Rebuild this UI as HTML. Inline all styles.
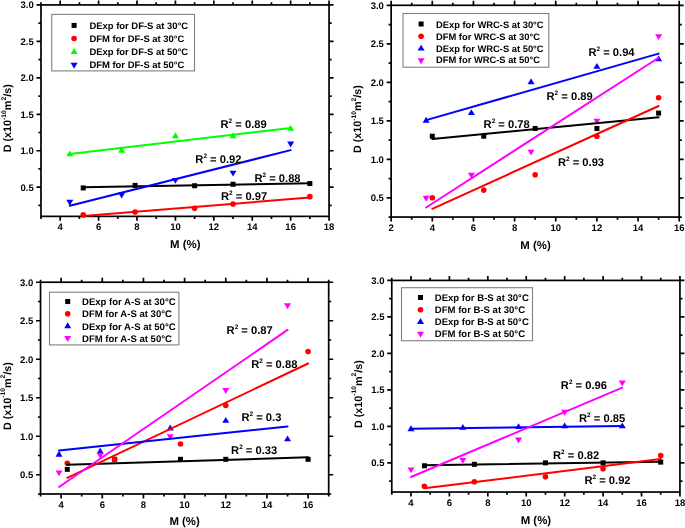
<!DOCTYPE html>
<html><head><meta charset="utf-8"><style>
html,body{margin:0;padding:0;background:#fff;width:685px;height:528px;overflow:hidden}
svg{display:block;will-change:transform}
text{font-family:"Liberation Sans", sans-serif;font-weight:bold;fill:#000;text-rendering:geometricPrecision}
.tk{font-size:9.5px}
.ti{font-size:10.8px}
.xt{font-size:11.4px}
.lg{font-size:9.3px}
.r2{font-size:11.2px}
.sup{font-size:6.7px}
.sup2{font-size:6.4px}
</style></head><body>
<svg width="685" height="528" viewBox="0 0 685 528">
<rect width="685" height="528" fill="#fff"/>
<rect x="40.98" y="4.92" width="288.08" height="211.44" fill="none" stroke="#000" stroke-width="1.7"/>
<path d="M60.19 216.36v4.5M60.19 4.92v-4.5M98.6 216.36v4.5M98.6 4.92v-4.5M137.01 216.36v4.5M137.01 4.92v-4.5M175.42 216.36v4.5M175.42 4.92v-4.5M213.83 216.36v4.5M213.83 4.92v-4.5M252.24 216.36v4.5M252.24 4.92v-4.5M290.65 216.36v4.5M290.65 4.92v-4.5M329.06 216.36v4.5M329.06 4.92v-4.5M40.98 216.36v2.6M40.98 4.92v-2.6M79.39 216.36v2.6M79.39 4.92v-2.6M117.8 216.36v2.6M117.8 4.92v-2.6M156.21 216.36v2.6M156.21 4.92v-2.6M194.62 216.36v2.6M194.62 4.92v-2.6M233.03 216.36v2.6M233.03 4.92v-2.6M271.44 216.36v2.6M271.44 4.92v-2.6M309.85 216.36v2.6M309.85 4.92v-2.6M40.98 205.42h-2.6M329.06 205.42h2.6M40.98 187.2h-4.5M329.06 187.2h4.5M40.98 168.97h-2.6M329.06 168.97h2.6M40.98 150.74h-4.5M329.06 150.74h4.5M40.98 132.51h-2.6M329.06 132.51h2.6M40.98 114.29h-4.5M329.06 114.29h4.5M40.98 96.06h-2.6M329.06 96.06h2.6M40.98 77.83h-4.5M329.06 77.83h4.5M40.98 59.6h-2.6M329.06 59.6h2.6M40.98 41.38h-4.5M329.06 41.38h4.5M40.98 23.15h-2.6M329.06 23.15h2.6M40.98 4.92h-4.5M329.06 4.92h4.5" stroke="#000" stroke-width="1.7" fill="none"/>
<rect x="51.75" y="14.4" width="142.75" height="56.5" fill="none" stroke="#808080" stroke-width="1.1"/>
<rect x="80.73" y="185.42" width="5" height="5" fill="#000000"/>
<rect x="132.59" y="182.87" width="5" height="5" fill="#000000"/>
<rect x="192.12" y="183.24" width="5" height="5" fill="#000000"/>
<rect x="230.53" y="181.78" width="5" height="5" fill="#000000"/>
<rect x="307.35" y="181.05" width="5" height="5" fill="#000000"/>
<circle cx="83.23" cy="214.9" r="2.8" fill="#ff0000"/>
<circle cx="135.09" cy="211.99" r="2.8" fill="#ff0000"/>
<circle cx="194.62" cy="208.34" r="2.8" fill="#ff0000"/>
<circle cx="233.03" cy="203.97" r="2.8" fill="#ff0000"/>
<circle cx="309.85" cy="196.67" r="2.8" fill="#ff0000"/>
<path d="M69.79 150.45L73.29 156.35L66.29 156.35Z" fill="#00ff00"/>
<path d="M121.64 146.81L125.14 152.71L118.14 152.71Z" fill="#00ff00"/>
<path d="M175.42 132.23L178.92 138.13L171.92 138.13Z" fill="#00ff00"/>
<path d="M233.03 132.23L236.53 138.13L229.53 138.13Z" fill="#00ff00"/>
<path d="M290.65 124.93L294.15 130.83L287.15 130.83Z" fill="#00ff00"/>
<path d="M66.29 199.81L73.29 199.81L69.79 205.71Z" fill="#0000ff"/>
<path d="M118.14 192.52L125.14 192.52L121.64 198.42Z" fill="#0000ff"/>
<path d="M171.92 177.94L178.92 177.94L175.42 183.84Z" fill="#0000ff"/>
<path d="M229.53 170.65L236.53 170.65L233.03 176.55Z" fill="#0000ff"/>
<path d="M287.15 141.48L294.15 141.48L290.65 147.38Z" fill="#0000ff"/>
<line x1="83.23" y1="187.26" x2="309.85" y2="183.3" stroke="#000000" stroke-width="2.0" stroke-linecap="round"/>
<line x1="83.23" y1="215.91" x2="309.85" y2="197.57" stroke="#ff0000" stroke-width="2.0" stroke-linecap="round"/>
<line x1="69.79" y1="154.07" x2="290.65" y2="127.96" stroke="#00ff00" stroke-width="2.0" stroke-linecap="round"/>
<line x1="69.79" y1="205.68" x2="290.65" y2="150.15" stroke="#0000ff" stroke-width="2.0" stroke-linecap="round"/>
<text x="60.19" y="230.16" text-anchor="middle" class="tk">4</text>
<text x="98.6" y="230.16" text-anchor="middle" class="tk">6</text>
<text x="137.01" y="230.16" text-anchor="middle" class="tk">8</text>
<text x="175.42" y="230.16" text-anchor="middle" class="tk">10</text>
<text x="213.83" y="230.16" text-anchor="middle" class="tk">12</text>
<text x="252.24" y="230.16" text-anchor="middle" class="tk">14</text>
<text x="290.65" y="230.16" text-anchor="middle" class="tk">16</text>
<text x="329.06" y="230.16" text-anchor="middle" class="tk">18</text>
<text x="33.68" y="190.5" text-anchor="end" class="tk">0.5</text>
<text x="33.68" y="154.04" text-anchor="end" class="tk">1.0</text>
<text x="33.68" y="117.59" text-anchor="end" class="tk">1.5</text>
<text x="33.68" y="81.13" text-anchor="end" class="tk">2.0</text>
<text x="33.68" y="44.68" text-anchor="end" class="tk">2.5</text>
<text x="33.68" y="8.22" text-anchor="end" class="tk">3.0</text>
<text x="185.3" y="248.3" text-anchor="middle" class="xt">M (%)</text>
<text transform="translate(10.9 152.3) rotate(-90)" class="ti">D (x10<tspan class="sup" dy="-5.4">-10</tspan><tspan dy="5.4">m</tspan><tspan class="sup" dy="-5.4">2</tspan><tspan dy="5.4">/s)</tspan></text>
<rect x="71.6" y="22.9" width="5" height="5" fill="#000000"/>
<text x="89.4" y="29.3" class="lg" style="font-size:9.45px">DExp for DF-S at 30°C</text>
<circle cx="74.1" cy="38.5" r="2.8" fill="#ff0000"/>
<text x="89.4" y="42.2" class="lg" style="font-size:9.45px">DFM for DF-S at 30°C</text>
<path d="M74.1 48.05L77.6 53.95L70.6 53.95Z" fill="#00ff00"/>
<text x="89.4" y="54.9" class="lg" style="font-size:9.45px">DExp for DF-S at 50°C</text>
<path d="M70.6 62.75L77.6 62.75L74.1 68.65Z" fill="#0000ff"/>
<text x="89.4" y="68" class="lg" style="font-size:9.45px">DFM for DF-S at 50°C</text>
<text x="220.5" y="127.5" class="r2">R<tspan class="sup2" dy="-5.0">2</tspan><tspan dy="5.0"> = 0.89</tspan></text>
<text x="195.3" y="163" class="r2">R<tspan class="sup2" dy="-5.0">2</tspan><tspan dy="5.0"> = 0.92</tspan></text>
<text x="254.4" y="181.8" class="r2">R<tspan class="sup2" dy="-5.0">2</tspan><tspan dy="5.0"> = 0.88</tspan></text>
<text x="221" y="200.2" class="r2">R<tspan class="sup2" dy="-5.0">2</tspan><tspan dy="5.0"> = 0.97</tspan></text>
<rect x="391.15" y="5.3" width="288.05" height="211.75" fill="none" stroke="#000" stroke-width="1.7"/>
<path d="M391.15 217.05v4.5M391.15 5.3v-4.5M432.3 217.05v4.5M432.3 5.3v-4.5M473.45 217.05v4.5M473.45 5.3v-4.5M514.6 217.05v4.5M514.6 5.3v-4.5M555.75 217.05v4.5M555.75 5.3v-4.5M596.9 217.05v4.5M596.9 5.3v-4.5M638.05 217.05v4.5M638.05 5.3v-4.5M679.2 217.05v4.5M679.2 5.3v-4.5M411.72 217.05v2.6M411.72 5.3v-2.6M452.88 217.05v2.6M452.88 5.3v-2.6M494.02 217.05v2.6M494.02 5.3v-2.6M535.17 217.05v2.6M535.17 5.3v-2.6M576.33 217.05v2.6M576.33 5.3v-2.6M617.48 217.05v2.6M617.48 5.3v-2.6M658.62 217.05v2.6M658.62 5.3v-2.6M391.15 217.05h-2.6M679.2 217.05h2.6M391.15 197.8h-4.5M679.2 197.8h4.5M391.15 178.55h-2.6M679.2 178.55h2.6M391.15 159.3h-4.5M679.2 159.3h4.5M391.15 140.05h-2.6M679.2 140.05h2.6M391.15 120.8h-4.5M679.2 120.8h4.5M391.15 101.55h-2.6M679.2 101.55h2.6M391.15 82.3h-4.5M679.2 82.3h4.5M391.15 63.05h-2.6M679.2 63.05h2.6M391.15 43.8h-4.5M679.2 43.8h4.5M391.15 24.55h-2.6M679.2 24.55h2.6M391.15 5.3h-4.5M679.2 5.3h4.5" stroke="#000" stroke-width="1.7" fill="none"/>
<rect x="403" y="13.5" width="145.8" height="53.7" fill="none" stroke="#808080" stroke-width="1.1"/>
<rect x="429.8" y="133.7" width="5" height="5" fill="#000000"/>
<rect x="481.24" y="133.7" width="5" height="5" fill="#000000"/>
<rect x="532.67" y="126" width="5" height="5" fill="#000000"/>
<rect x="594.4" y="126" width="5" height="5" fill="#000000"/>
<rect x="656.12" y="110.6" width="5" height="5" fill="#000000"/>
<circle cx="432.3" cy="197.8" r="2.8" fill="#ff0000"/>
<circle cx="483.74" cy="190.1" r="2.8" fill="#ff0000"/>
<circle cx="535.17" cy="174.7" r="2.8" fill="#ff0000"/>
<circle cx="596.9" cy="136.2" r="2.8" fill="#ff0000"/>
<circle cx="658.62" cy="97.7" r="2.8" fill="#ff0000"/>
<path d="M426.13 116.87L429.63 122.77L422.63 122.77Z" fill="#0000ff"/>
<path d="M471.39 109.17L474.89 115.07L467.89 115.07Z" fill="#0000ff"/>
<path d="M531.06 78.37L534.56 84.27L527.56 84.27Z" fill="#0000ff"/>
<path d="M596.9 62.97L600.4 68.87L593.4 68.87Z" fill="#0000ff"/>
<path d="M658.62 55.27L662.12 61.17L655.12 61.17Z" fill="#0000ff"/>
<path d="M422.63 195.83L429.63 195.83L426.13 201.73Z" fill="#ff00ff"/>
<path d="M467.89 172.73L474.89 172.73L471.39 178.63Z" fill="#ff00ff"/>
<path d="M527.56 149.63L534.56 149.63L531.06 155.53Z" fill="#ff00ff"/>
<path d="M593.4 118.83L600.4 118.83L596.9 124.73Z" fill="#ff00ff"/>
<path d="M655.12 34.13L662.12 34.13L658.62 40.03Z" fill="#ff00ff"/>
<line x1="432.3" y1="139" x2="658.62" y2="117.21" stroke="#000000" stroke-width="2.0" stroke-linecap="round"/>
<line x1="432.3" y1="208.83" x2="658.62" y2="106.03" stroke="#ff0000" stroke-width="2.0" stroke-linecap="round"/>
<line x1="426.13" y1="120.13" x2="658.62" y2="53.62" stroke="#0000ff" stroke-width="2.0" stroke-linecap="round"/>
<line x1="426.13" y1="207.47" x2="658.62" y2="57.77" stroke="#ff00ff" stroke-width="2.0" stroke-linecap="round"/>
<text x="391.15" y="230.85" text-anchor="middle" class="tk">2</text>
<text x="432.3" y="230.85" text-anchor="middle" class="tk">4</text>
<text x="473.45" y="230.85" text-anchor="middle" class="tk">6</text>
<text x="514.6" y="230.85" text-anchor="middle" class="tk">8</text>
<text x="555.75" y="230.85" text-anchor="middle" class="tk">10</text>
<text x="596.9" y="230.85" text-anchor="middle" class="tk">12</text>
<text x="638.05" y="230.85" text-anchor="middle" class="tk">14</text>
<text x="679.2" y="230.85" text-anchor="middle" class="tk">16</text>
<text x="383.85" y="201.1" text-anchor="end" class="tk">0.5</text>
<text x="383.85" y="162.6" text-anchor="end" class="tk">1.0</text>
<text x="383.85" y="124.1" text-anchor="end" class="tk">1.5</text>
<text x="383.85" y="85.6" text-anchor="end" class="tk">2.0</text>
<text x="383.85" y="47.1" text-anchor="end" class="tk">2.5</text>
<text x="383.85" y="8.6" text-anchor="end" class="tk">3.0</text>
<text x="535.5" y="248.6" text-anchor="middle" class="xt">M (%)</text>
<text transform="translate(361.2 153.1) rotate(-90)" class="ti">D (x10<tspan class="sup" dy="-5.4">-10</tspan><tspan dy="5.4">m</tspan><tspan class="sup" dy="-5.4">2</tspan><tspan dy="5.4">/s)</tspan></text>
<rect x="418.6" y="21.5" width="5" height="5" fill="#000000"/>
<text x="436" y="27.5" class="lg" style="font-size:9.35px">DExp for WRC-S at 30°C</text>
<circle cx="421.1" cy="36.3" r="2.8" fill="#ff0000"/>
<text x="436" y="39.7" class="lg" style="font-size:9.35px">DFM for WRC-S at 30°C</text>
<path d="M421.1 44.65L424.6 50.55L417.6 50.55Z" fill="#0000ff"/>
<text x="436" y="51.6" class="lg" style="font-size:9.35px">DExp for WRC-S at 50°C</text>
<path d="M417.6 58.25L424.6 58.25L421.1 64.15Z" fill="#ff00ff"/>
<text x="436" y="63.3" class="lg" style="font-size:9.35px">DFM for WRC-S at 50°C</text>
<text x="588.4" y="55.7" class="r2">R<tspan class="sup2" dy="-5.0">2</tspan><tspan dy="5.0"> = 0.94</tspan></text>
<text x="546.5" y="99.5" class="r2">R<tspan class="sup2" dy="-5.0">2</tspan><tspan dy="5.0"> = 0.89</tspan></text>
<text x="483.6" y="127.5" class="r2">R<tspan class="sup2" dy="-5.0">2</tspan><tspan dy="5.0"> = 0.78</tspan></text>
<text x="557.9" y="165.7" class="r2">R<tspan class="sup2" dy="-5.0">2</tspan><tspan dy="5.0"> = 0.93</tspan></text>
<rect x="40.53" y="282.23" width="288.15" height="211.75" fill="none" stroke="#000" stroke-width="1.7"/>
<path d="M61.11 493.98v4.5M61.11 282.23v-4.5M102.28 493.98v4.5M102.28 282.23v-4.5M143.44 493.98v4.5M143.44 282.23v-4.5M184.6 493.98v4.5M184.6 282.23v-4.5M225.77 493.98v4.5M225.77 282.23v-4.5M266.93 493.98v4.5M266.93 282.23v-4.5M308.1 493.98v4.5M308.1 282.23v-4.5M40.53 493.98v2.6M40.53 282.23v-2.6M81.69 493.98v2.6M81.69 282.23v-2.6M122.86 493.98v2.6M122.86 282.23v-2.6M164.02 493.98v2.6M164.02 282.23v-2.6M205.19 493.98v2.6M205.19 282.23v-2.6M246.35 493.98v2.6M246.35 282.23v-2.6M287.52 493.98v2.6M287.52 282.23v-2.6M328.68 493.98v2.6M328.68 282.23v-2.6M40.53 493.98h-2.6M328.68 493.98h2.6M40.53 474.73h-4.5M328.68 474.73h4.5M40.53 455.48h-2.6M328.68 455.48h2.6M40.53 436.23h-4.5M328.68 436.23h4.5M40.53 416.98h-2.6M328.68 416.98h2.6M40.53 397.73h-4.5M328.68 397.73h4.5M40.53 378.48h-2.6M328.68 378.48h2.6M40.53 359.23h-4.5M328.68 359.23h4.5M40.53 339.98h-2.6M328.68 339.98h2.6M40.53 320.73h-4.5M328.68 320.73h4.5M40.53 301.48h-2.6M328.68 301.48h2.6M40.53 282.23h-4.5M328.68 282.23h4.5" stroke="#000" stroke-width="1.7" fill="none"/>
<rect x="49.5" y="292.2" width="129.4" height="52.7" fill="none" stroke="#808080" stroke-width="1.1"/>
<rect x="64.79" y="466.84" width="5" height="5" fill="#000000"/>
<rect x="112.13" y="456.83" width="5" height="5" fill="#000000"/>
<rect x="177.99" y="456.83" width="5" height="5" fill="#000000"/>
<rect x="223.27" y="456.83" width="5" height="5" fill="#000000"/>
<rect x="305.6" y="456.83" width="5" height="5" fill="#000000"/>
<circle cx="67.29" cy="463.18" r="2.8" fill="#ff0000"/>
<circle cx="114.63" cy="459.33" r="2.8" fill="#ff0000"/>
<circle cx="180.49" cy="443.93" r="2.8" fill="#ff0000"/>
<circle cx="225.77" cy="405.43" r="2.8" fill="#ff0000"/>
<circle cx="308.1" cy="351.53" r="2.8" fill="#ff0000"/>
<path d="M59.05 450.78L62.55 456.68L55.55 456.68Z" fill="#0000ff"/>
<path d="M100.22 447.7L103.72 453.6L96.72 453.6Z" fill="#0000ff"/>
<path d="M170.2 424.6L173.7 430.5L166.7 430.5Z" fill="#0000ff"/>
<path d="M225.77 416.9L229.27 422.8L222.27 422.8Z" fill="#0000ff"/>
<path d="M287.52 435.38L291.02 441.28L284.02 441.28Z" fill="#0000ff"/>
<path d="M55.55 470.45L62.55 470.45L59.05 476.35Z" fill="#ff00ff"/>
<path d="M96.72 452.74L103.72 452.74L100.22 458.64Z" fill="#ff00ff"/>
<path d="M166.7 434.26L173.7 434.26L170.2 440.16Z" fill="#ff00ff"/>
<path d="M222.27 388.06L229.27 388.06L225.77 393.96Z" fill="#ff00ff"/>
<path d="M284.02 303.36L291.02 303.36L287.52 309.26Z" fill="#ff00ff"/>
<line x1="67.29" y1="464.87" x2="308.1" y2="457.26" stroke="#000000" stroke-width="2.0" stroke-linecap="round"/>
<line x1="67.29" y1="477.85" x2="308.1" y2="363.5" stroke="#ff0000" stroke-width="2.0" stroke-linecap="round"/>
<line x1="59.05" y1="450.58" x2="287.52" y2="426.43" stroke="#0000ff" stroke-width="2.0" stroke-linecap="round"/>
<line x1="59.05" y1="487.04" x2="287.52" y2="329.94" stroke="#ff00ff" stroke-width="2.0" stroke-linecap="round"/>
<text x="61.11" y="507.78" text-anchor="middle" class="tk">4</text>
<text x="102.28" y="507.78" text-anchor="middle" class="tk">6</text>
<text x="143.44" y="507.78" text-anchor="middle" class="tk">8</text>
<text x="184.6" y="507.78" text-anchor="middle" class="tk">10</text>
<text x="225.77" y="507.78" text-anchor="middle" class="tk">12</text>
<text x="266.93" y="507.78" text-anchor="middle" class="tk">14</text>
<text x="308.1" y="507.78" text-anchor="middle" class="tk">16</text>
<text x="33.23" y="478.03" text-anchor="end" class="tk">0.5</text>
<text x="33.23" y="439.53" text-anchor="end" class="tk">1.0</text>
<text x="33.23" y="401.03" text-anchor="end" class="tk">1.5</text>
<text x="33.23" y="362.53" text-anchor="end" class="tk">2.0</text>
<text x="33.23" y="324.03" text-anchor="end" class="tk">2.5</text>
<text x="33.23" y="285.53" text-anchor="end" class="tk">3.0</text>
<text x="184.6" y="525" text-anchor="middle" class="xt">M (%)</text>
<text transform="translate(10.6 430.1) rotate(-90)" class="ti">D (x10<tspan class="sup" dy="-5.4">-10</tspan><tspan dy="5.4">m</tspan><tspan class="sup" dy="-5.4">2</tspan><tspan dy="5.4">/s)</tspan></text>
<rect x="65.2" y="299" width="5" height="5" fill="#000000"/>
<text x="82" y="304.8" class="lg" style="font-size:9.55px">DExp for A-S at 30°C</text>
<circle cx="67.7" cy="313.7" r="2.8" fill="#ff0000"/>
<text x="82" y="317.1" class="lg" style="font-size:9.55px">DFM for A-S at 30°C</text>
<path d="M67.7 322.25L71.2 328.15L64.2 328.15Z" fill="#0000ff"/>
<text x="82" y="329.6" class="lg" style="font-size:9.55px">DExp for A-S at 50°C</text>
<path d="M64.2 336.05L71.2 336.05L67.7 341.95Z" fill="#ff00ff"/>
<text x="82" y="341.6" class="lg" style="font-size:9.55px">DFM for A-S at 50°C</text>
<text x="226.6" y="333.6" class="r2">R<tspan class="sup2" dy="-5.0">2</tspan><tspan dy="5.0"> = 0.87</tspan></text>
<text x="251.2" y="368.3" class="r2">R<tspan class="sup2" dy="-5.0">2</tspan><tspan dy="5.0"> = 0.88</tspan></text>
<text x="241.4" y="420.7" class="r2">R<tspan class="sup2" dy="-5.0">2</tspan><tspan dy="5.0"> = 0.3</tspan></text>
<text x="231.1" y="453.6" class="r2">R<tspan class="sup2" dy="-5.0">2</tspan><tspan dy="5.0"> = 0.33</tspan></text>
<rect x="391.77" y="280.42" width="288.16" height="211.62" fill="none" stroke="#000" stroke-width="1.7"/>
<path d="M410.98 492.04v4.5M410.98 280.42v-4.5M449.4 492.04v4.5M449.4 280.42v-4.5M487.82 492.04v4.5M487.82 280.42v-4.5M526.24 492.04v4.5M526.24 280.42v-4.5M564.67 492.04v4.5M564.67 280.42v-4.5M603.09 492.04v4.5M603.09 280.42v-4.5M641.51 492.04v4.5M641.51 280.42v-4.5M679.93 492.04v4.5M679.93 280.42v-4.5M391.77 492.04v2.6M391.77 280.42v-2.6M430.19 492.04v2.6M430.19 280.42v-2.6M468.61 492.04v2.6M468.61 280.42v-2.6M507.03 492.04v2.6M507.03 280.42v-2.6M545.46 492.04v2.6M545.46 280.42v-2.6M583.88 492.04v2.6M583.88 280.42v-2.6M622.3 492.04v2.6M622.3 280.42v-2.6M660.72 492.04v2.6M660.72 280.42v-2.6M391.77 481.09h-2.6M679.93 481.09h2.6M391.77 462.85h-4.5M679.93 462.85h4.5M391.77 444.61h-2.6M679.93 444.61h2.6M391.77 426.36h-4.5M679.93 426.36h4.5M391.77 408.12h-2.6M679.93 408.12h2.6M391.77 389.88h-4.5M679.93 389.88h4.5M391.77 371.64h-2.6M679.93 371.64h2.6M391.77 353.39h-4.5M679.93 353.39h4.5M391.77 335.15h-2.6M679.93 335.15h2.6M391.77 316.91h-4.5M679.93 316.91h4.5M391.77 298.66h-2.6M679.93 298.66h2.6M391.77 280.42h-4.5M679.93 280.42h4.5" stroke="#000" stroke-width="1.7" fill="none"/>
<rect x="401.5" y="287.7" width="131" height="53" fill="none" stroke="#808080" stroke-width="1.1"/>
<rect x="421.93" y="463.27" width="5" height="5" fill="#000000"/>
<rect x="471.88" y="461.81" width="5" height="5" fill="#000000"/>
<rect x="542.96" y="460.35" width="5" height="5" fill="#000000"/>
<rect x="600.59" y="460.35" width="5" height="5" fill="#000000"/>
<rect x="658.22" y="459.62" width="5" height="5" fill="#000000"/>
<circle cx="424.43" cy="486.2" r="2.8" fill="#ff0000"/>
<circle cx="474.38" cy="481.82" r="2.8" fill="#ff0000"/>
<circle cx="545.46" cy="476.72" r="2.8" fill="#ff0000"/>
<circle cx="603.09" cy="468.69" r="2.8" fill="#ff0000"/>
<circle cx="660.72" cy="455.55" r="2.8" fill="#ff0000"/>
<path d="M410.98 425.35L414.48 431.25L407.48 431.25Z" fill="#0000ff"/>
<path d="M462.85 423.89L466.35 429.79L459.35 429.79Z" fill="#0000ff"/>
<path d="M518.56 423.16L522.06 429.06L515.06 429.06Z" fill="#0000ff"/>
<path d="M564.67 422.43L568.17 428.33L561.17 428.33Z" fill="#0000ff"/>
<path d="M622.3 422.43L625.8 428.33L618.8 428.33Z" fill="#0000ff"/>
<path d="M407.48 467.45L414.48 467.45L410.98 473.35Z" fill="#ff00ff"/>
<path d="M459.35 457.97L466.35 457.97L462.85 463.87Z" fill="#ff00ff"/>
<path d="M515.06 437.53L522.06 437.53L518.56 443.43Z" fill="#ff00ff"/>
<path d="M561.17 409.8L568.17 409.8L564.67 415.7Z" fill="#ff00ff"/>
<path d="M618.8 380.61L625.8 380.61L622.3 386.51Z" fill="#ff00ff"/>
<line x1="424.43" y1="465.29" x2="660.72" y2="461.85" stroke="#000000" stroke-width="2.0" stroke-linecap="round"/>
<line x1="424.43" y1="488.25" x2="660.72" y2="459.11" stroke="#ff0000" stroke-width="2.0" stroke-linecap="round"/>
<line x1="410.98" y1="428.84" x2="622.3" y2="425.91" stroke="#0000ff" stroke-width="2.0" stroke-linecap="round"/>
<line x1="410.98" y1="476.96" x2="622.3" y2="387.67" stroke="#ff00ff" stroke-width="2.0" stroke-linecap="round"/>
<text x="410.98" y="505.84" text-anchor="middle" class="tk">4</text>
<text x="449.4" y="505.84" text-anchor="middle" class="tk">6</text>
<text x="487.82" y="505.84" text-anchor="middle" class="tk">8</text>
<text x="526.24" y="505.84" text-anchor="middle" class="tk">10</text>
<text x="564.67" y="505.84" text-anchor="middle" class="tk">12</text>
<text x="603.09" y="505.84" text-anchor="middle" class="tk">14</text>
<text x="641.51" y="505.84" text-anchor="middle" class="tk">16</text>
<text x="679.93" y="505.84" text-anchor="middle" class="tk">18</text>
<text x="384.47" y="466.15" text-anchor="end" class="tk">0.5</text>
<text x="384.47" y="429.66" text-anchor="end" class="tk">1.0</text>
<text x="384.47" y="393.18" text-anchor="end" class="tk">1.5</text>
<text x="384.47" y="356.69" text-anchor="end" class="tk">2.0</text>
<text x="384.47" y="320.21" text-anchor="end" class="tk">2.5</text>
<text x="384.47" y="283.72" text-anchor="end" class="tk">3.0</text>
<text x="535.9" y="523.6" text-anchor="middle" class="xt">M (%)</text>
<text transform="translate(361.7 428.1) rotate(-90)" class="ti">D (x10<tspan class="sup" dy="-5.4">-10</tspan><tspan dy="5.4">m</tspan><tspan class="sup" dy="-5.4">2</tspan><tspan dy="5.4">/s)</tspan></text>
<rect x="418" y="295" width="5" height="5" fill="#000000"/>
<text x="434.8" y="300.8" class="lg" style="font-size:9.55px">DExp for B-S at 30°C</text>
<circle cx="420.5" cy="309.7" r="2.8" fill="#ff0000"/>
<text x="434.8" y="312.7" class="lg" style="font-size:9.55px">DFM for B-S at 30°C</text>
<path d="M420.5 318.05L424 323.95L417 323.95Z" fill="#0000ff"/>
<text x="434.8" y="324.9" class="lg" style="font-size:9.55px">DExp for B-S at 50°C</text>
<path d="M417 331.75L424 331.75L420.5 337.65Z" fill="#ff00ff"/>
<text x="434.8" y="337.2" class="lg" style="font-size:9.55px">DFM for B-S at 50°C</text>
<text x="560.8" y="388.5" class="r2">R<tspan class="sup2" dy="-5.0">2</tspan><tspan dy="5.0"> = 0.96</tspan></text>
<text x="579" y="421.6" class="r2">R<tspan class="sup2" dy="-5.0">2</tspan><tspan dy="5.0"> = 0.85</tspan></text>
<text x="553" y="458.7" class="r2">R<tspan class="sup2" dy="-5.0">2</tspan><tspan dy="5.0"> = 0.82</tspan></text>
<text x="584.4" y="483.5" class="r2">R<tspan class="sup2" dy="-5.0">2</tspan><tspan dy="5.0"> = 0.92</tspan></text>
</svg>
</body></html>
